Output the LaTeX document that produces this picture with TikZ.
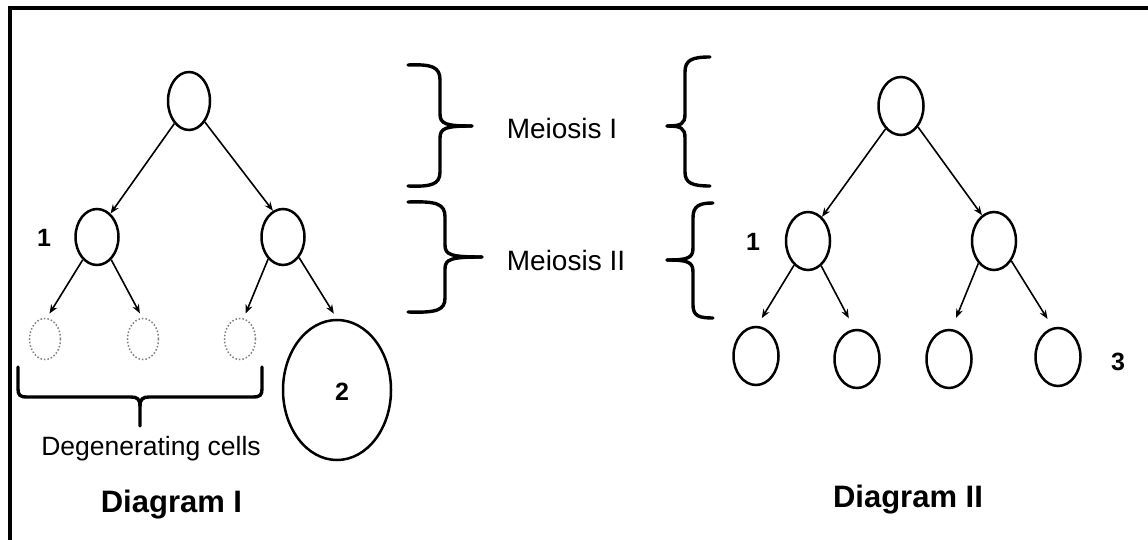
\documentclass[tikz,border=0pt]{standalone}
\usepackage{fontspec}
\setmainfont{Liberation Sans}
\usetikzlibrary{shapes.geometric,arrows.meta}
\begin{document}
\begin{tikzpicture}[x=1pt,y=-1pt,
  cell/.style={ellipse,draw,line width=2.5pt,inner sep=0pt},
  deadcell/.style={ellipse,draw=gray,dotted,line width=1.5pt,inner sep=0pt,minimum width=31pt,minimum height=41pt},
  arr/.style={line width=1.6pt,-{Stealth[length=9pt,width=7pt]}},
  brace/.style={line width=3.4pt,line cap=round},
  lbl/.style={anchor=base,inner sep=0pt,font=\fontsize{28}{30}\selectfont},
  num/.style={anchor=base,inner sep=0pt,font=\fontsize{25}{27}\selectfont\bfseries},
  title/.style={anchor=base,inner sep=0pt,font=\fontsize{31}{33}\selectfont\bfseries}]
\useasboundingbox (0,0) rectangle (1148,540);
\fill[white] (0,0) rectangle (1148,540);
\draw[line width=4pt] (9.5,540) -- (9.5,8) -- (1148,8);

% Diagram I
\node[cell,minimum width=42pt,minimum height=58pt] (t1) at (189,101) {};
\node[cell,minimum width=43pt,minimum height=56pt] (m1) at (97,237) {};
\node[cell,minimum width=43pt,minimum height=56pt] (m2) at (283,237) {};
\node[deadcell] (d1) at (45,339) {};
\node[deadcell] (d2) at (143,339) {};
\node[deadcell] (d3) at (240,339) {};
\node[cell,minimum width=108pt,minimum height=140pt] (big) at (337,390) {};
\draw[arr] (t1.237) -- (m1.60);
\draw[arr] (t1.307) -- (m2.111);
\draw[arr,shorten >=5pt] (m1.238) -- (d1.85);
\draw[arr,shorten >=5pt] (m1.302) -- (d2.92);
\draw[arr,shorten >=5pt] (m2.236) -- (d3.80);
\draw[arr,shorten >=6pt] (m2.308) -- (big.north);
\node[num] (n1a) at (44,246) {1};
\node[num] (n2) at (342,400) {2};
\draw[brace] (18,367) -- (18,389) .. controls (18,395) and (20,397) .. (27,397) -- (131,397) .. controls (137,397) and (140,399) .. (140,406) -- (140,426);
\draw[brace] (262,367) -- (262,389) .. controls (262,395) and (260,397) .. (253,397) -- (149,397) .. controls (143,397) and (140,399) .. (140,406);
\node[lbl,font=\fontsize{26.5}{28}\selectfont] (deg) at (151,455) {Degenerating cells};
\node[title] (dI) at (171.5,512) {Diagram I};

% Braces and meiosis labels
\draw[brace] (408,65) .. controls (432,64) and (440,67) .. (440,80) -- (440,114) .. controls (440,124) and (446,126) .. (472,126);
\draw[brace] (472,126) .. controls (446,126) and (440,128) .. (440,138) -- (440,172) .. controls (440,184) and (432,187) .. (408,186);
\draw[brace] (408,202) .. controls (437,201) and (445,204) .. (445,217) -- (445,245) .. controls (445,255) and (451,257) .. (482,257);
\draw[brace] (482,257) .. controls (451,257) and (445,259) .. (445,269) -- (445,298) .. controls (445,310) and (437,313) .. (408,312);
\draw[brace] (710,57) .. controls (692,57) and (685,60) .. (685,72) -- (685,114) .. controls (685,124) and (681,126) .. (667,126);
\draw[brace] (667,126) .. controls (681,126) and (685,128) .. (685,138) -- (685,172) .. controls (685,183) and (692,186) .. (710,186);
\draw[brace] (713,203) .. controls (699,203) and (693,206) .. (693,218) -- (693,248) .. controls (693,258) and (688,260) .. (667,260);
\draw[brace] (667,260) .. controls (688,260) and (693,262) .. (693,272) -- (693,305) .. controls (693,316) and (699,318) .. (713,318);
\node[lbl] (mI) at (562,139) {Meiosis I};
\node[lbl] (mII) at (566,270) {Meiosis II};

% Diagram II
\node[cell,minimum width=45pt,minimum height=58pt] (t2) at (901,106) {};
\node[cell,minimum width=44pt,minimum height=58pt] (ml) at (808,241) {};
\node[cell,minimum width=44pt,minimum height=58pt] (mr) at (994,241) {};
\node[cell,minimum width=45pt,minimum height=58pt] (b1) at (756,356) {};
\node[cell,minimum width=45pt,minimum height=58pt] (b2) at (857,359) {};
\node[cell,minimum width=45pt,minimum height=58pt] (b3) at (949,359) {};
\node[cell,minimum width=45pt,minimum height=58pt] (b4) at (1058,357) {};
\draw[arr] (t2.236) -- (ml.60);
\draw[arr] (t2.309) -- (mr.115);
\draw[arr,shorten >=9pt] (ml.240) -- (b1.88);
\draw[arr,shorten >=12pt] (ml.298) -- (b2.95);
\draw[arr,shorten >=12pt] (mr.235) -- (b3.85);
\draw[arr,shorten >=10pt] (mr.311) -- (b4.100);
\node[num] (n1b) at (753,250) {1};
\node[num] (n3) at (1118,370) {3};
\node[title] (dII) at (908,507) {Diagram II};
\end{tikzpicture}
\end{document}
